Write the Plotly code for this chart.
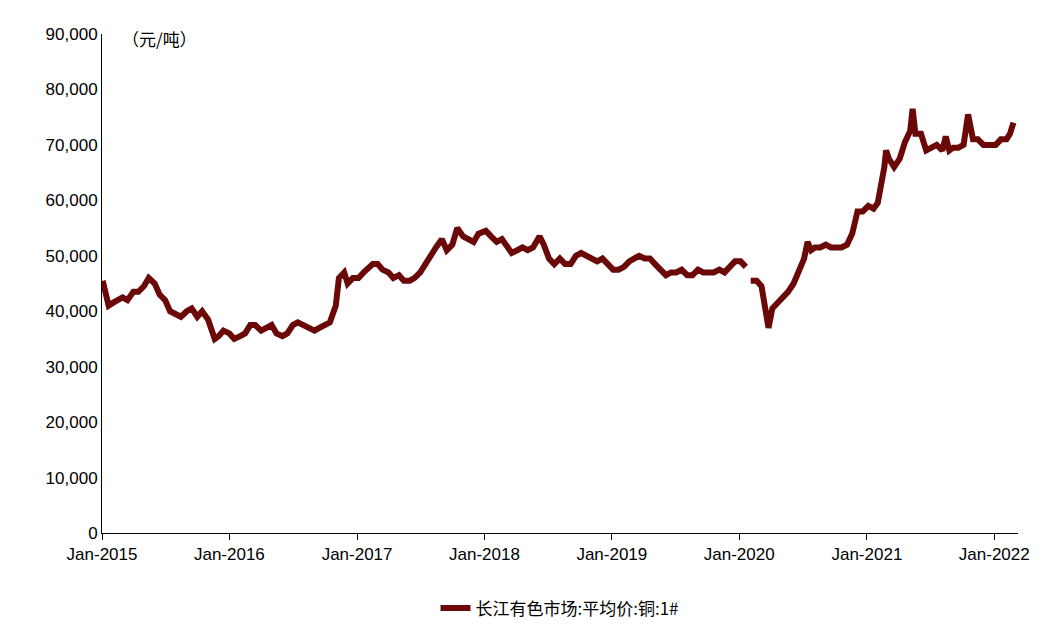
import plotly.graph_objects as go

dates = ["2015-01-03","2015-01-20","2015-02-01","2015-02-15","2015-03-01","2015-03-15","2015-04-01","2015-04-15","2015-05-01","2015-05-15","2015-06-01","2015-06-15","2015-07-01","2015-07-15","2015-08-01","2015-08-15","2015-09-01","2015-09-15","2015-10-01","2015-10-15","2015-11-01","2015-11-20","2015-12-01","2015-12-15",
"2016-01-01","2016-01-15","2016-02-01","2016-02-15","2016-03-01","2016-03-15","2016-04-01","2016-04-15","2016-05-01","2016-05-15","2016-06-01","2016-06-15","2016-07-01","2016-07-15","2016-08-01","2016-08-15","2016-09-01","2016-09-15","2016-10-01","2016-10-15","2016-11-01","2016-11-10","2016-11-25","2016-12-05","2016-12-20",
"2017-01-05","2017-01-20","2017-02-15","2017-03-01","2017-03-15","2017-04-01","2017-04-15","2017-05-01","2017-05-15","2017-06-01","2017-06-15","2017-07-01","2017-07-15","2017-08-01","2017-08-15","2017-09-01","2017-09-15","2017-10-01","2017-10-15","2017-11-01","2017-11-15","2017-12-01","2017-12-15",
"2018-01-05","2018-01-20","2018-02-05","2018-02-20","2018-03-05","2018-03-20","2018-04-05","2018-04-20","2018-05-05","2018-05-20","2018-06-08","2018-06-20","2018-07-05","2018-07-20","2018-08-05","2018-08-20","2018-09-05","2018-09-20","2018-10-05","2018-10-20","2018-11-05","2018-11-20","2018-12-05","2018-12-20",
"2019-01-05","2019-01-20","2019-02-05","2019-02-20","2019-03-05","2019-03-20","2019-04-05","2019-04-20","2019-05-05","2019-05-20","2019-06-05","2019-06-20","2019-07-05","2019-07-20","2019-08-05","2019-08-20","2019-09-05","2019-09-20","2019-10-05","2019-10-20","2019-11-05","2019-11-20","2019-12-05","2019-12-20",
"2020-01-05","2020-01-20","2020-01-27","2020-02-03","2020-02-20","2020-03-05","2020-03-20","2020-03-25","2020-04-05","2020-04-20","2020-05-05","2020-05-20","2020-06-05","2020-06-20","2020-07-05","2020-07-15","2020-07-25","2020-08-05","2020-08-20","2020-09-05","2020-09-20","2020-10-05","2020-10-20","2020-11-05","2020-11-20","2020-12-05","2020-12-20",
"2021-01-05","2021-01-20","2021-02-01","2021-02-10","2021-02-20","2021-02-25","2021-03-05","2021-03-20","2021-04-05","2021-04-20","2021-05-05","2021-05-12","2021-05-20","2021-06-05","2021-06-20","2021-07-05","2021-07-20","2021-08-05","2021-08-15","2021-08-25","2021-09-05","2021-09-20","2021-10-05","2021-10-18","2021-11-01","2021-11-15","2021-12-01","2021-12-15",
"2022-01-05","2022-01-20","2022-02-05","2022-02-15","2022-02-25"]
prices = [45500,41000,41500,42000,42500,42000,43500,43500,44500,46000,45000,43000,42000,40000,39500,39000,40000,40500,39000,40000,38500,35000,35500,36500,
36000,35000,35500,36000,37500,37500,36500,37000,37500,36000,35500,36000,37500,38000,37500,37000,36500,37000,37500,38000,41000,46000,47000,45000,46000,
46000,47000,48500,48500,47500,47000,46000,46500,45500,45500,46000,47000,48500,50000,51500,53000,51000,52000,55000,53500,53000,52500,54000,
54500,53500,52500,53000,52000,50500,51000,51500,51000,51500,53500,52000,49500,48500,49500,48500,48500,50000,50500,50000,49500,49000,49500,48500,
47500,47500,48000,49000,49500,50000,49500,49500,48500,47500,46500,47000,47000,47500,46500,46500,47500,47000,47000,47000,47500,47000,48000,49000,
49000,48000,None,45500,45500,44500,38500,37000,40500,41500,42500,43500,45000,47500,49500,52500,51000,51500,51500,52000,51500,51500,51500,52000,54000,58000,58000,
59000,58500,59500,62000,66000,69000,67500,66000,67500,70500,72500,76500,72000,72000,69000,69500,70000,69000,71500,69000,69500,69500,70000,75500,71000,71000,70000,70000,
70000,71000,71000,72000,74000]

series_name = "长江有色市场:平均价:铜:1#"
unit_label = "（元/吨）"

font = "Liberation Sans, Arial, sans-serif"
fig = go.Figure(go.Scatter(x=dates, y=prices, mode="lines", name=series_name,
                           line=dict(color="#6B0808", width=6), connectgaps=False))
fig.update_layout(
    width=1060, height=630, plot_bgcolor="white", paper_bgcolor="white",
    margin=dict(l=94, r=50, t=26, b=103),
    font=dict(family=font, size=17, color="black"),
    showlegend=True,
    legend=dict(orientation="h", x=0.5, xanchor="center", y=-0.115, yanchor="top",
                font=dict(size=17, family="Noto Sans CJK SC, "+font)),
    annotations=[dict(text=unit_label, xref="paper", yref="paper", x=0.02, y=0.99,
                      xanchor="left", yanchor="middle", showarrow=False,
                      font=dict(size=17, family="Noto Sans CJK SC, "+font))],
)
fig.update_xaxes(range=["2015-01-01","2022-03-10"], dtick="M12", tick0="2015-01-01",
                 tickformat="%b-%Y", showgrid=False, showline=True, linecolor="black",
                 ticks="outside", ticklen=6, tickcolor="black")
fig.update_yaxes(range=[0,90000], dtick=10000, tickformat=",", showgrid=False,
                 showline=True, linecolor="black", ticks="", zeroline=False)
fig.write_html("out.html")
